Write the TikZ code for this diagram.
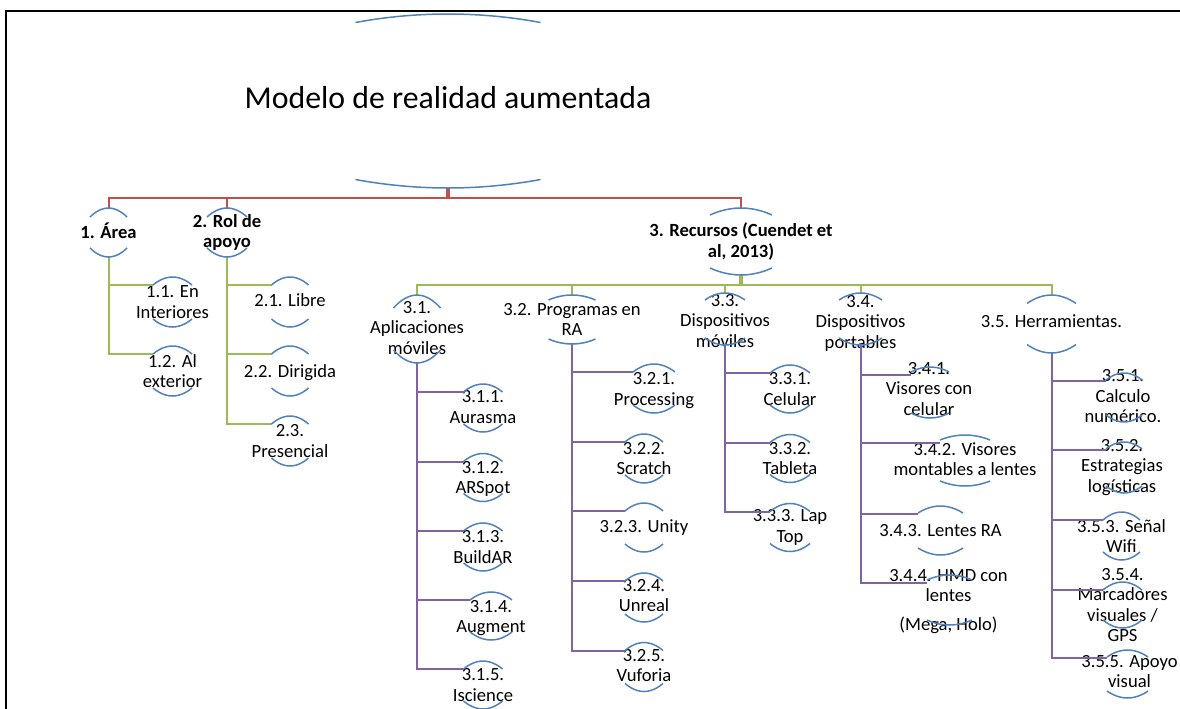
\documentclass[tikz,border=0pt]{standalone}
\usepackage{fontspec}
\setmainfont{Carlito}
\definecolor{arcblue}{HTML}{4F81BD}
\definecolor{linkred}{HTML}{C0504D}
\definecolor{linkgreen}{HTML}{9BBB59}
\definecolor{linkviolet}{HTML}{8064A2}
\tikzset{
  unit/.style 2 args={minimum width=#1pt, minimum height=#2pt, inner sep=0pt, outer sep=0pt},
  txt/.style={align=center, inner sep=0pt, font=\fontsize{18.6}{20.5}\selectfont},
  head/.style={txt, font=\fontsize{18.6}{20.5}\selectfont\bfseries},
  bigtxt/.style={inner sep=0pt, font=\fontsize{31.8}{38}\selectfont},
  arcline/.style={arcblue, line width=1.5pt},
  redlink/.style={linkred, line width=2pt},
  greenlink/.style={linkgreen, line width=2pt},
  violetlink/.style={linkviolet, line width=2pt}
}
\begin{document}
\begin{tikzpicture}[x=1pt,y=-1pt]
  \useasboundingbox (0,0) rectangle (1180,709);
  \draw[line width=1.5pt] (6,709) -- (6,11) -- (1180,11);

  \node[unit={185}{174}, label={[bigtxt,yshift=3pt]center:Modelo de realidad aumentada}] at (448,101) (title) {};
  \node[unit={37}{49}, label={[head,yshift=1.5pt]center:1. Área}] at (108.5,232.5) (area) {};
  \node[unit={40}{49}, label={[head]center:2. Rol de\\apoyo}] at (227,232.5) (rol) {};
  \node[unit={62}{67}, label={[head]center:3. Recursos (Cuendet et\\al, 2013)}] at (741,241.5) (recursos) {};

  \node[unit={39}{50}, label={[txt]center:1.1. En\\Interiores}] at (172.5,302) (interiores) {};
  \node[unit={39}{50}, label={[txt]center:1.2. Al\\exterior}] at (172.5,371) (exterior) {};
  \node[unit={37}{50}, label={[txt,yshift=1.5pt]center:2.1. Libre}] at (290,302) (libre) {};
  \node[unit={37}{50}, label={[txt,yshift=-1.5pt]center:2.2. Dirigida}] at (290,371) (dirigida) {};
  \node[unit={37}{50}, label={[txt]center:2.3.\\Presencial}] at (290,441) (presencial) {};

  \node[unit={47}{68}, label={[txt,yshift=1pt]center:3.1.\\Aplicaciones\\móviles}] at (417,329) (apps) {};
  \node[unit={47}{49}, label={[txt]center:3.2. Programas en\\RA}] at (572,319.5) (programas) {};
  \node[unit={40}{52}, label={[txt,yshift=-2pt]center:3.3.\\Dispositivos\\móviles}] at (725,319) (moviles) {};
  \node[unit={43}{52}, label={[txt,yshift=-4pt]center:3.4.\\Dispositivos\\portables}] at (860.5,319) (portables) {};
  \node[unit={49}{58}, label={[txt,yshift=2.5pt]center:3.5. Herramientas.}] at (1051.5,324) (herramientas) {};

  \node[unit={39}{48}, label={[txt,yshift=1pt]center:3.1.1.\\Aurasma}] at (483,408) (aurasma) {};
  \node[unit={39}{48}, label={[txt,yshift=-1.5pt]center:3.1.2.\\ARSpot}] at (483,477.5) (arspot) {};
  \node[unit={39}{48}, label={[txt]center:3.1.3.\\BuildAR}] at (483,547) (buildar) {};
  \node[unit={42}{48}, label={[txt,yshift=-2pt]center:3.1.4.\\Augment}] at (491,616) (augment) {};
  \node[unit={39}{48}, label={[txt]center:3.1.5.\\Iscience}] at (483,685) (iscience) {};

  \node[unit={42}{49}, label={[txt,yshift=-2pt]center:3.2.1.\\Processing}] at (654,388.5) (processing) {};
  \node[unit={38}{49}, label={[txt]center:3.2.2.\\Scratch}] at (644,458.5) (scratch) {};
  \node[unit={38}{49}, label={[txt]center:3.2.3. Unity}] at (644,527.5) (unity) {};
  \node[unit={38}{49}, label={[txt,yshift=2pt]center:3.2.4.\\Unreal}] at (644,597.5) (unreal) {};
  \node[unit={38}{49}, label={[txt,yshift=1.5pt]center:3.2.5.\\Vuforia}] at (644,667) (vuforia) {};

  \node[unit={40}{48}, label={[txt]center:3.3.1.\\Celular}] at (790,389) (celular) {};
  \node[unit={40}{48}, label={[txt]center:3.3.2.\\Tableta}] at (790,458.5) (tableta) {};
  \node[unit={40}{48}, label={[txt]center:3.3.3. Lap\\Top}] at (790,527.5) (laptop) {};

  \node[unit={38}{51}, label={[txt,xshift=-1pt,yshift=3.5pt]center:3.4.1.\\Visores con\\celular}] at (930,392.5) (visores) {};
  \node[unit={50}{51}, label={[txt,yshift=1.5pt]center:3.4.2. Visores\\montables a lentes}] at (965,460.5) (montables) {};
  \node[unit={45}{49}, label={[txt]center:3.4.3. Lentes RA}] at (940.5,530.5) (lentesra) {};
  \node[unit={45}{50}, label={[txt,xshift=-1pt,yshift=-1.5pt]center:3.4.4. HMD con\\lentes\\[8pt](Mega, Holo)}] at (949.5,600) (hmd) {};

  \node[unit={36}{49}, label={[txt,xshift=-1pt,yshift=1pt]center:3.5.1.\\Calculo\\numérico.}] at (1124,397.5) (calculo) {};
  \node[unit={36}{51}, label={[txt,xshift=-2pt]center:3.5.2.\\Estrategias\\logísticas}] at (1124,467.5) (estrategias) {};
  \node[unit={37}{48}, label={[txt]center:3.5.3. Señal\\Wifi}] at (1121.5,536) (wifi) {};
  \node[unit={39}{46}, label={[txt]center:3.5.4.\\Marcadores\\visuales /\\GPS}] at (1122.5,605) (marcadores) {};
  \node[unit={41}{48}, label={[txt,xshift=2pt,yshift=2.5pt]center:3.5.5. Apoyo\\visual}] at (1127.5,674) (apoyo) {};

  \draw[redlink, line width=4pt] (title.south) -- ++(0,10);
  \foreach \c in {area,rol,recursos}
    \draw[redlink] (title.south) -- ++(0,10) -| (\c.north);
  \draw[greenlink, line width=4pt] (recursos.south) -- ++(0,10);
  \foreach \c in {apps,programas,moviles,portables,herramientas}
    \draw[greenlink] (recursos.south) -- ++(0,10) -| (\c.north);
  \foreach \c in {interiores,exterior}
    \draw[greenlink] (area.south) |- ([yshift=-8pt]\c.north west);
  \foreach \c in {libre,dirigida,presencial}
    \draw[greenlink] (rol.south) |- ([yshift=-8pt]\c.north west);
  \foreach \c in {aurasma,arspot,buildar,augment,iscience}
    \draw[violetlink] (apps.south) |- ([yshift=-8pt]\c.north west);
  \foreach \c in {processing,scratch,unity,unreal,vuforia}
    \draw[violetlink] (programas.south) |- ([yshift=-8pt]\c.north west);
  \foreach \c in {celular,tableta,laptop}
    \draw[violetlink] (moviles.south) |- ([yshift=-8pt]\c.north west);
  \foreach \c in {visores,montables,lentesra,hmd}
    \draw[violetlink] (portables.south) |- ([yshift=-8pt]\c.north west);
  \foreach \c in {calculo,estrategias,wifi,marcadores,apoyo}
    \draw[violetlink] (herramientas.south) |- ([yshift=-8pt]\c.north west);

  \foreach \n/\s in {title/8.5, area/9, rol/9, recursos/7, interiores/8, exterior/8,
      libre/8, dirigida/8, presencial/8, apps/13, programas/5, moviles/7, portables/7,
      herramientas/8.5, aurasma/8, arspot/8, buildar/8, augment/8, iscience/8,
      processing/8, scratch/8, unity/8, unreal/8, vuforia/8, celular/8, tableta/8,
      laptop/8, visores/5, montables/5, lentesra/7, hmd/5, calculo/7, estrategias/7,
      wifi/8, marcadores/8, apoyo/7} {
    \draw[arcline] ([yshift=-\s pt]\n.north west) parabola bend (\n.north) ([yshift=-\s pt]\n.north east);
    \draw[arcline] ([yshift=\s pt]\n.south west) parabola bend (\n.south) ([yshift=\s pt]\n.south east);
  }
\end{tikzpicture}
\end{document}
